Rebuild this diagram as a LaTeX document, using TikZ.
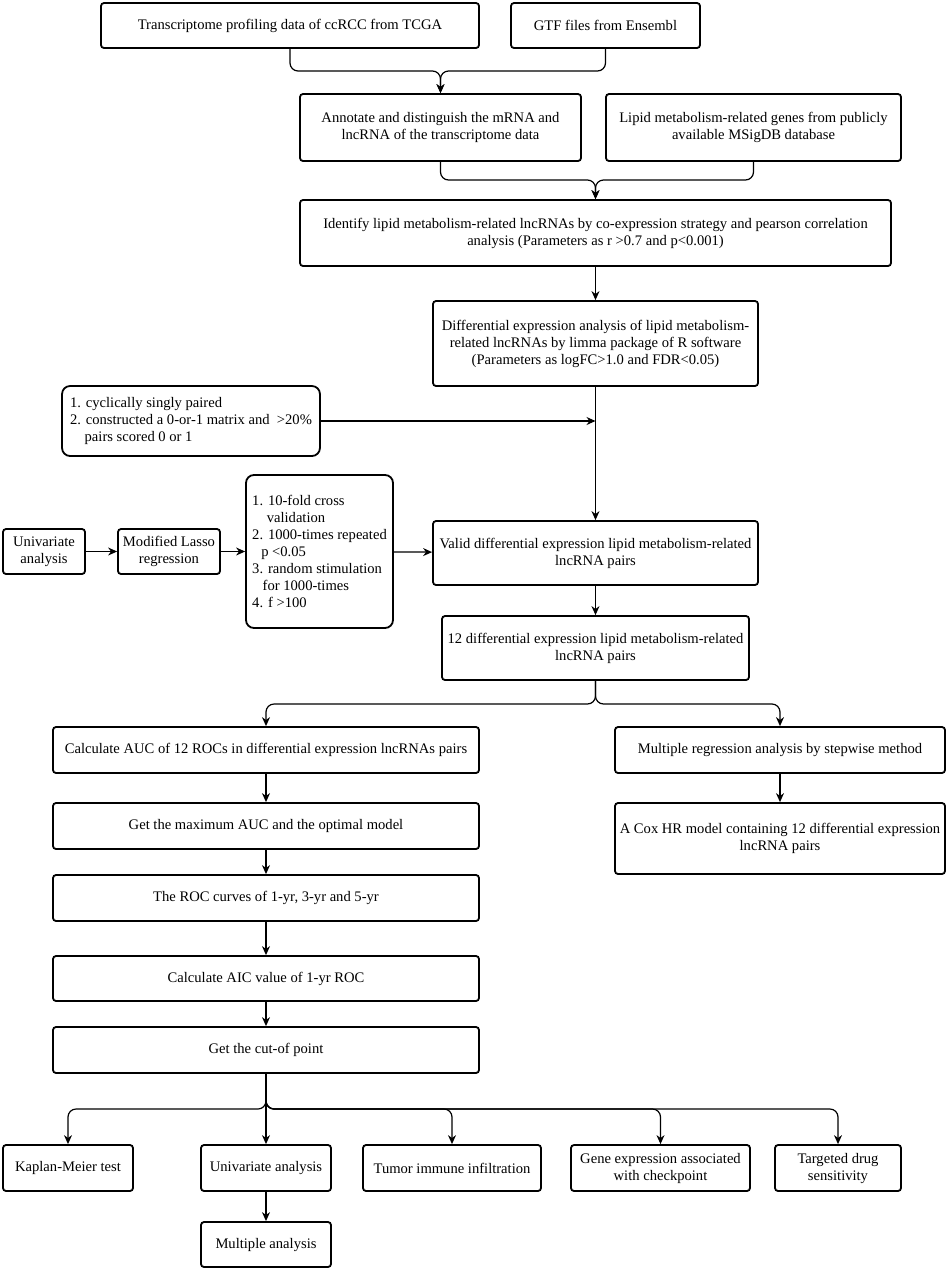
\documentclass[tikz,border=0pt]{standalone}
\usepackage{fontspec}
\setmainfont{Liberation Serif}
\newfontfamily\boxfont{Liberation Serif}
\usetikzlibrary{arrows.meta}
\tikzstyle{boxs}=[draw,line width=1.8pt,rounded corners=3pt,align=center,inner sep=2pt,font=\boxfont\fontsize{14.6}{17}\selectfont]
\tikzstyle{lists}=[boxs,align=left,rounded corners=8pt]
\tikzstyle{conn}=[line width=1.2pt,-{Stealth[length=9pt,width=8pt]}]
\tikzstyle{fork}=[conn,rounded corners=8pt]

\begin{document}
\begin{tikzpicture}[x=1pt,y=-1pt]
    \useasboundingbox (0,0) rectangle (948,1270);
    % data sources
    \node[boxs,minimum width=378,minimum height=45] (tcga) at (290,25.5) {Transcriptome profiling data of ccRCC from TCGA};
    \node[boxs,minimum width=189,minimum height=45] (gtf) at (605.5,25.5) {GTF files from Ensembl};
    \node[boxs,minimum width=281,minimum height=67] (anno) at (440.5,127.5) {Annotate and distinguish the mRNA and\\lncRNA of the transcriptome data};
    \node[boxs,minimum width=295,minimum height=67] (msig) at (753.5,127.5) {Lipid metabolism-related genes from publicly\\available MSigDB database};
    \node[boxs,minimum width=591,minimum height=66] (ident) at (595.5,233) {Identify lipid metabolism-related lncRNAs by co-expression strategy and pearson correlation\\analysis (Parameters as r >0.7 and p<0.001)};
    \node[boxs,minimum width=325,minimum height=85] (diff) at (595.5,343.5) {Differential expression analysis of lipid metabolism-\\related lncRNAs by limma package of R software\\(Parameters as logFC>1.0 and FDR<0.05)};
    % pairing and lasso
    \node[lists,minimum width=256,minimum height=70,inner xsep=8pt] (pair) at (191,421) {1. cyclically singly paired\\2. constructed a 0-or-1 matrix and \ >20\%\\\hspace{1em}pairs scored 0 or 1};
    \node[boxs,minimum width=82,minimum height=45] (univ) at (44,551.5) {Univariate\\analysis};
    \node[boxs,minimum width=102,minimum height=45] (lasso) at (169,551.5) {Modified Lasso\\regression};
    \node[lists,minimum width=147,minimum height=153,inner xsep=5pt] (crit) at (319.5,551.5) {1. 10-fold cross\\\hspace{1em}validation\\2. 1000-times repeated\\\hspace{0.62em}p <0.05\\3. random stimulation\\\hspace{0.72em}for 1000-times\\4. f >100};
    \node[boxs,minimum width=325,minimum height=64] (valid) at (595.5,553) {Valid differential expression lipid metabolism-related\\lncRNA pairs};
    \node[boxs,minimum width=307,minimum height=64] (twelve) at (595.5,648) {12 differential expression lipid metabolism-related\\lncRNA pairs};
    % left branch
    \node[boxs,minimum width=426,minimum height=46] (auc) at (266,750) {Calculate AUC of 12 ROCs in differential expression lncRNAs pairs};
    \node[boxs,minimum width=426,minimum height=46] (maxauc) at (266,826) {Get the maximum AUC and the optimal model};
    \node[boxs,minimum width=426,minimum height=46] (roc) at (266,898) {The ROC curves of 1-yr, 3-yr and 5-yr};
    \node[boxs,minimum width=426,minimum height=45] (aic) at (266,978.5) {Calculate AIC value of 1-yr ROC};
    \node[boxs,minimum width=426,minimum height=46] (cut) at (266,1050) {Get the cut-of point};
    % right branch
    \node[boxs,minimum width=330,minimum height=46] (stepw) at (780,750) {Multiple regression analysis by stepwise method};
    \node[boxs,minimum width=330,minimum height=71] (cox) at (780,838.5) {A Cox HR model containing 12 differential expression\\lncRNA pairs};
    % outcomes
    \node[boxs,minimum width=130,minimum height=46] (km) at (68,1168) {Kaplan-Meier test};
    \node[boxs,minimum width=130,minimum height=46] (uni2) at (266,1168) {Univariate analysis};
    \node[boxs,minimum width=178,minimum height=46] (tumor) at (452,1168) {Tumor immune infiltration};
    \node[boxs,minimum width=179,minimum height=46] (gene) at (660.5,1168) {Gene expression associated\\with checkpoint};
    \node[boxs,minimum width=126,minimum height=46] (target) at (838,1168) {Targeted drug\\sensitivity};
    \node[boxs,minimum width=130,minimum height=45] (multi) at (266,1244.5) {Multiple analysis};

    \coordinate (j1) at (440.5,71);
    \coordinate (j2) at (595.5,180);
    \coordinate (j3) at (595.5,704);
    \coordinate (j4) at (266,1109);
    \coordinate (pj) at (diff.south |- pair.east);

    \foreach \from in {tcga,gtf}
    \draw[fork] (\from.south) |- (j1) -- (anno.north);
    \foreach \from in {anno,msig}
    \draw[fork] (\from.south) |- (j2) -- (ident.north);
    \foreach \to in {auc,stepw}
    \draw[fork] (twelve.south) -- (j3) -| (\to.north);
    \foreach \to in {km,tumor,gene,target}
    \draw[fork] (cut.south) -- (j4) -| (\to.north);

    \draw[conn] (pair.east) -- (pj);
    \foreach \from/\to in {ident/diff,diff/valid,univ/lasso,lasso/crit,crit/valid,valid/twelve,auc/maxauc,maxauc/roc,roc/aic,aic/cut,stepw/cox,cut/uni2,uni2/multi}
    \draw[conn] (\from) -- (\to);
\end{tikzpicture}
\end{document}
